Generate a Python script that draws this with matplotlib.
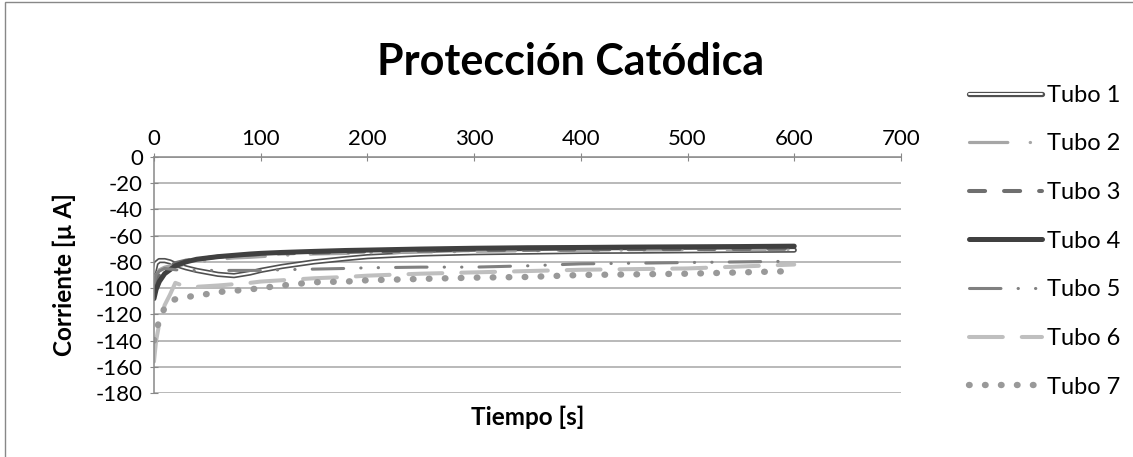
import numpy as np
import matplotlib.pyplot as plt
import matplotlib.patheffects as pe
from matplotlib.patches import Rectangle

plt.rcParams['font.family'] = ['Lato', 'DejaVu Sans']
plt.rcParams['axes.unicode_minus'] = False

# tiempo [s]
t = [0, 2, 5, 10, 15, 20, 30, 40, 50, 60, 75, 90, 100, 120, 150, 180, 200,
     250, 300, 350, 400, 450, 500, 550, 600]

# corriente [uA]
tubo1 = [-88, -81, -79, -79, -80, -82, -84.5, -86.5, -88, -89.5, -90.5, -88.5, -86.5, -83.5, -80, -77.5, -76,
         -74, -73, -72.5, -72, -71.8, -71.5, -71.2, -71]
tubo2 = [-96, -90, -86, -84, -83, -83, -82, -81, -79, -78, -77, -76.5, -76, -75, -74, -73.5, -73,
         -72.5, -72, -71.5, -71.2, -71, -70.8, -70.6, -70.5]
tubo3 = [-102, -95, -90, -86, -83, -81, -79, -78, -77, -76, -75, -74.5, -74, -73.5, -73, -72.5, -72,
         -71.5, -71, -70.8, -70.5, -70.3, -70.2, -70.1, -70]
tubo4 = [-108, -101, -95, -89, -86, -83, -80, -78, -77, -76, -75, -74, -73.5, -72.8, -72, -71.3, -71,
         -70.2, -69.6, -69.2, -69, -68.7, -68.5, -68.3, -68]
tubo5 = [-96, -90, -87, -85, -85.5, -86, -86.5, -86.5, -86.5, -86.5, -86.5, -86.5, -86.5, -86, -85.5, -85, -84.5,
         -84, -84, -83, -81.5, -81, -80.5, -80, -79.5]
tubo6 = [-156, -140, -127, -113, -105, -96, -99, -99, -98.5, -98, -97, -96, -95, -94, -92.5, -91.5, -90.5,
         -89, -88, -87, -86, -85.5, -85, -83.5, -82]
tubo7 = [-140, -134, -124, -115, -110, -108.5, -107, -105.5, -104.5, -103, -102, -101, -100, -98, -95.5, -95, -94,
         -93, -92, -91.5, -90, -89.5, -89, -88, -87]

labels = ['Tubo 1', 'Tubo 2', 'Tubo 3', 'Tubo 4', 'Tubo 5', 'Tubo 6', 'Tubo 7']

fig = plt.figure(figsize=(11.33, 4.57), dpi=100)
ax = fig.add_axes([0.1359, 0.140, 0.6593, 0.5165])

ax.plot(t, tubo1, color='white', lw=1.4, solid_capstyle='round', label=labels[0],
        path_effects=[pe.Stroke(linewidth=3.8, foreground='#505050', capstyle='round'), pe.Normal()])
ax.plot(t, tubo2, color='#a6a6a6', lw=2.3, dashes=(12, 7, 0.1, 7), dash_capstyle='round', label=labels[1])
ax.plot(t, tubo3, color='#6f6f6f', lw=2.9, dashes=(4, 4.7), dash_capstyle='round', label=labels[2])
ax.plot(t, tubo4, color='#404040', lw=3.6, solid_capstyle='round', label=labels[3])
ax.plot(t, tubo5, color='#808080', lw=2.2, dashes=(10.3, 5.6, 0.1, 5.6, 0.1, 5.6), dash_capstyle='round',
        label=labels[4])
ax.plot(t, tubo6, color='#bfbfbf', lw=2.9, dashes=(8.4, 4.7), dash_capstyle='round', label=labels[5])
ax.plot(t, tubo7, color='#999999', lw=4.6, dashes=(0.1, 2.4), dash_capstyle='round', label=labels[6])

ax.set_xlim(0, 700)
ax.set_ylim(-180, 0)
ax.set_xticks(np.arange(0, 701, 100))
ax.set_yticks(np.arange(-180, 1, 20))
ax.xaxis.tick_top()
ax.tick_params(axis='x', direction='inout', length=6, color='#888888', labelsize=16, pad=3)
ax.tick_params(axis='y', direction='inout', length=6, color='#888888', labelsize=16, pad=5)
ax.grid(axis='y', color='#a6a6a6', lw=1.1)
ax.set_axisbelow(True)
for s in ['right', 'bottom']:
    ax.spines[s].set_visible(False)
for s in ['left', 'top']:
    ax.spines[s].set_color('#888888')
    ax.spines[s].set_linewidth(1.1)

ax.set_ylabel('Corriente [µ A]', fontsize=17.5, fontweight='bold', labelpad=14)
ax.set_xlabel('Tiempo [s]', fontsize=17.5, fontweight='bold', labelpad=9)
ax.xaxis.set_label_position('bottom')

fig.text(0.504, 0.864, 'Protección Catódica', fontsize=31, fontweight='bold', ha='center', va='center')

fig.legend(loc='upper left', bbox_to_anchor=(0.847, 0.835), frameon=False, fontsize=17,
           handlelength=3.1, handletextpad=0.2, labelspacing=1.17, borderaxespad=0)

fig.patches.append(Rectangle((5 / 1133, -0.1), 1.2, 1.1 - 2 / 457, transform=fig.transFigure,
                             fill=False, edgecolor='#888888', lw=1.0))

fig.savefig('out.png', dpi=100)
